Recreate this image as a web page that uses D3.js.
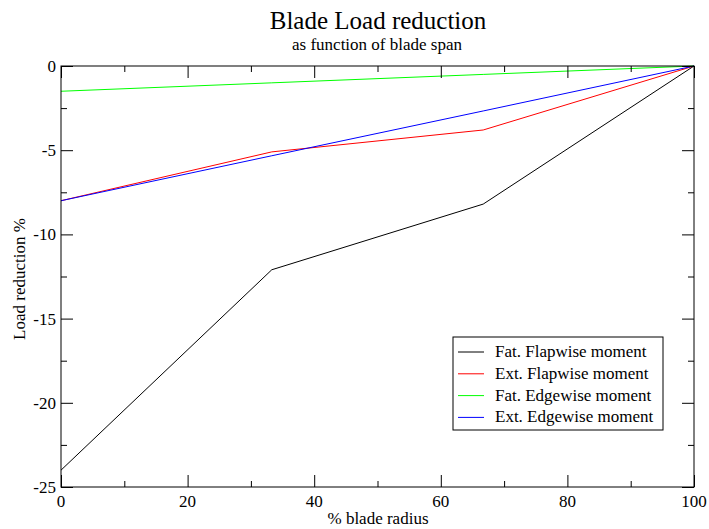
<!DOCTYPE html>
<html>
<head>
<meta charset="utf-8">
<script src="https://cdn.jsdelivr.net/npm/d3@7"></script>
<style>
  body { margin: 0; background: #fff; }
  svg { display: block; font-family: "Liberation Serif", "DejaVu Serif", serif; }
</style>
</head>
<body>
<svg id="chart" width="709" height="529"></svg>
<script>
// Blade span positions (% of blade radius)
const radius = [0, 33.3, 66.7, 100];

// Load reduction (%) for each moment
const fatFlapwise = [-24, -12.1, -8.2, 0];
const extFlapwise = [-8, -5.1, -3.8, 0];
const fatEdgewise = [-1.5, -1.0, -0.5, 0];
const extEdgewise = [-8, -5.33, -2.67, 0];

const seriesNames = ["Fat. Flapwise moment", "Ext. Flapwise moment", "Fat. Edgewise moment", "Ext. Edgewise moment"];
const seriesColors = ["#000000", "#ff0000", "#00ff00", "#0000ff"];
const seriesValues = [fatFlapwise, extFlapwise, fatEdgewise, extEdgewise];

const xTicks = [0, 20, 40, 60, 80, 100];
const xMinor = [10, 30, 50, 70, 90];
const yTicks = [0, -5, -10, -15, -20, -25];
const yMinor = [-2.5, -7.5, -12.5, -17.5, -22.5];

const svg = d3.select("#chart");
const plot = { left: 61, right: 694, top: 66, bottom: 487 };

const x = d3.scaleLinear().domain([0, 100]).range([plot.left, plot.right]);
const y = d3.scaleLinear().domain([-25, 0]).range([plot.bottom, plot.top]);

// Titles
svg.append("text").attr("x", 378).attr("y", 29).attr("text-anchor", "middle")
  .attr("font-size", 25).text("Blade Load reduction");
svg.append("text").attr("x", 377).attr("y", 50).attr("text-anchor", "middle")
  .attr("font-size", 17).text("as function of blade span");

// Series lines
const line = d3.line().x((d, i) => x(radius[i])).y(d => y(d));
seriesValues.forEach((vals, k) => {
  svg.append("path").datum(vals)
    .attr("d", line)
    .attr("fill", "none")
    .attr("stroke", seriesColors[k])
    .attr("stroke-width", 1);
});

// Inward ticks on all four sides
function tickAxis(axisGen, transform, values, size) {
  const g = svg.append("g").attr("transform", transform)
    .call(axisGen.tickValues(values).tickSize(size).tickFormat(""));
  g.select(".domain").remove();
  g.selectAll("line").attr("stroke", "#000");
  return g;
}
tickAxis(d3.axisTop(x), `translate(0,${plot.bottom})`, xTicks, 12);
tickAxis(d3.axisTop(x), `translate(0,${plot.bottom})`, xMinor, 6);
tickAxis(d3.axisBottom(x), `translate(0,${plot.top})`, xTicks, 12);
tickAxis(d3.axisBottom(x), `translate(0,${plot.top})`, xMinor, 6);
tickAxis(d3.axisRight(y), `translate(${plot.left},0)`, yTicks, 12);
tickAxis(d3.axisRight(y), `translate(${plot.left},0)`, yMinor, 6);
tickAxis(d3.axisLeft(y), `translate(${plot.right},0)`, yTicks, 12);
tickAxis(d3.axisLeft(y), `translate(${plot.right},0)`, yMinor, 6);

// Tick labels
svg.append("g").selectAll("text").data(xTicks).join("text")
  .attr("x", d => x(d)).attr("y", 507).attr("text-anchor", "middle")
  .attr("font-size", 17).text(d => d);
svg.append("g").selectAll("text").data(yTicks).join("text")
  .attr("x", 56).attr("y", d => y(d) + 6).attr("text-anchor", "end")
  .attr("font-size", 17).text(d => d);

// Frame
svg.append("rect")
  .attr("x", plot.left).attr("y", plot.top)
  .attr("width", plot.right - plot.left).attr("height", plot.bottom - plot.top)
  .attr("fill", "none").attr("stroke", "#000").attr("stroke-width", 1);

// Axis titles
svg.append("text").attr("x", 378).attr("y", 524).attr("text-anchor", "middle")
  .attr("font-size", 17).text("% blade radius");
svg.append("text").attr("transform", "translate(25,279) rotate(-90)")
  .attr("text-anchor", "middle").attr("font-size", 17).text("Load reduction %");

// Legend
const legend = svg.append("g");
legend.append("rect").attr("x", 453).attr("y", 337).attr("width", 210).attr("height", 93)
  .attr("fill", "#fff").attr("stroke", "#000").attr("stroke-width", 1);
seriesNames.forEach((name, k) => {
  const ly = 352 + k * 21.8;
  legend.append("line").attr("x1", 458).attr("x2", 484).attr("y1", ly).attr("y2", ly)
    .attr("stroke", seriesColors[k]).attr("stroke-width", 1);
  legend.append("text").attr("x", 495).attr("y", ly + 5).attr("font-size", 17).text(name);
});
</script>
</body>
</html>
